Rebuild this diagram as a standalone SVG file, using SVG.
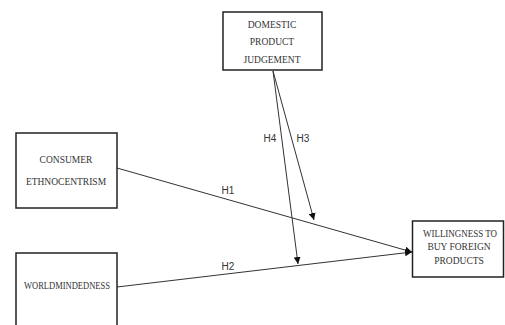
<svg xmlns="http://www.w3.org/2000/svg" width="505" height="325" viewBox="0 0 505 325">
<style>
.box{fill:#fff;stroke:#222;stroke-width:1.5}
.t{font-family:"Liberation Serif","Times New Roman",serif;font-size:9.5px;fill:#333;text-anchor:middle}
.lbl{font-family:"Liberation Sans",Arial,sans-serif;font-size:10px;fill:#333;text-anchor:middle}
.c{stroke:#333;stroke-width:1;fill:none;marker-end:url(#ah)}
</style>
<defs>
<marker id="ah" viewBox="0 0 10 10" refX="10" refY="5" markerWidth="7" markerHeight="7" markerUnits="userSpaceOnUse" orient="auto">
<path d="M0,0 L10,5 L0,10 z" fill="#111"/>
</marker>
</defs>
<rect width="505" height="325" fill="#fff"/>
<g id="connectors">
<line class="c" x1="117" y1="168" x2="412" y2="252"/>
<line class="c" x1="117" y1="287" x2="412" y2="252"/>
<line class="c" x1="273" y1="71" x2="314" y2="220"/>
<line class="c" x1="273" y1="71" x2="298" y2="264"/>
<text class="lbl" x="228" y="194">H1</text>
<text class="lbl" x="228" y="270">H2</text>
<text class="lbl" x="303" y="142">H3</text>
<text class="lbl" x="270" y="142">H4</text>
</g>
<g id="domestic">
<rect class="box" x="223" y="12" width="99" height="58"/>
<text class="t" x="272" y="28">DOMESTIC</text>
<text class="t" x="272" y="45">PRODUCT</text>
<text class="t" x="272" y="63">JUDGEMENT</text>
</g>
<g id="consumer">
<rect class="box" x="16" y="133" width="101" height="75"/>
<text class="t" x="66" y="163">CONSUMER</text>
<text class="t" x="66" y="185">ETHNOCENTRISM</text>
</g>
<g id="worldmindedness">
<rect class="box" x="16" y="253" width="101" height="80"/>
<text class="t" x="67" y="289" textLength="86" lengthAdjust="spacingAndGlyphs">WORLDMINDEDNESS</text>
</g>
<g id="willingness">
<rect class="box" x="412.5" y="221" width="91" height="56"/>
<text class="t" x="460" y="237" textLength="74" lengthAdjust="spacingAndGlyphs">WILLINGNESS TO</text>
<text class="t" x="459" y="250">BUY FOREIGN</text>
<text class="t" x="459" y="264">PRODUCTS</text>
</g>
</svg>
